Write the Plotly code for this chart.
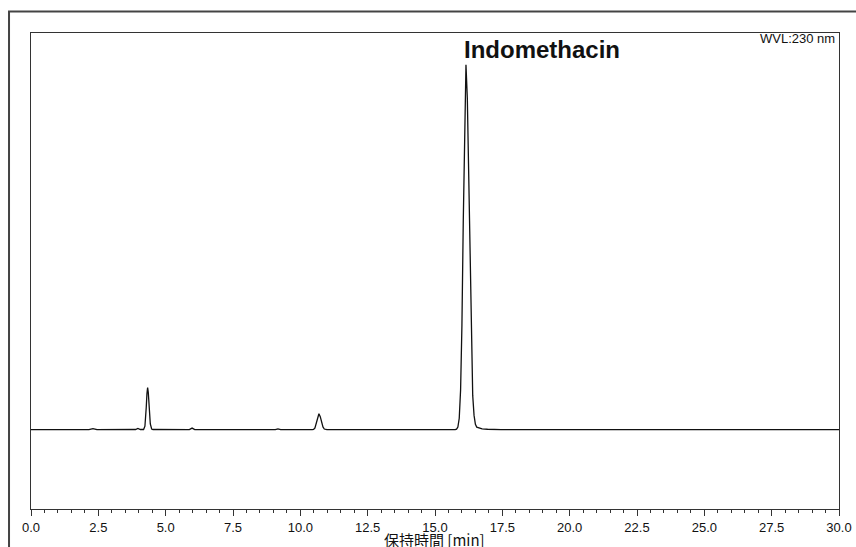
import plotly.graph_objects as go

# Chromatogram signal (time in min, signal in mAU)
time_min = [
    0.0, 1.35, 1.48, 1.6, 2.15, 2.30, 2.45, 3.88, 3.97, 4.06,
    4.18, 4.23, 4.255, 4.28, 4.305, 4.33, 4.355, 4.38, 4.405, 4.43, 4.48, 4.53,
    5.88, 5.98, 6.08, 6.9, 6.98, 7.06, 9.07, 9.17, 9.27,
    10.44, 10.49, 10.54, 10.59, 10.64, 10.69, 10.74, 10.79, 10.84, 10.89, 10.94, 10.99,
    15.75, 15.80, 15.85, 15.90, 15.95, 16.00, 16.05, 16.10, 16.15,
    16.20, 16.25, 16.30, 16.35, 16.40, 16.45, 16.50, 16.55, 16.65, 16.75, 16.95, 17.15, 17.45,
    30.0,
]
signal_mau = [
    0.0, 0.0, 0.3, 0.0, 0.0, 0.7, 0.0, 0.1, 0.8, 0.1,
    0.1, 2.2, 6.6, 14.3, 22.7, 26.5, 23.4, 16.1, 8.6, 3.6, 0.4, 0.1,
    0.0, 1.0, 0.0, 0.0, 0.2, 0.0, 0.0, 0.5, 0.0,
    0.0, 0.2, 1.0, 3.6, 7.7, 10.0, 8.2, 4.6, 1.7, 0.4, 0.1, 0.0,
    0.0, 0.3, 1.6, 7.2, 25.0, 66.0, 132.0, 200.0, 230.0,
    209.0, 157.6, 98.3, 50.7, 21.6, 9.0, 3.4, 1.6, 0.8, 0.5, 0.25, 0.1, 0.0,
    0.0,
]

x_tick_vals = [0.0, 2.5, 5.0, 7.5, 10.0, 12.5, 15.0, 17.5, 20.0, 22.5, 25.0, 27.5, 30.0]
x_tick_text = ["0.0", "2.5", "5.0", "7.5", "10.0", "12.5", "15.0", "17.5",
               "20.0", "22.5", "25.0", "27.5", "30.0"]

peak_name = "Indomethacin"
peak_time = 16.15
wavelength_label = "WVL:230 nm"
x_title = "保持時間 [min]"

fig = go.Figure()
fig.add_trace(go.Scatter(
    x=time_min, y=signal_mau, mode="lines",
    line=dict(color="#111111", width=1.3),
    hoverinfo="skip", showlegend=False,
))

axis_color = "#333333"
fig.update_layout(
    width=856, height=547,
    margin=dict(l=30.5, r=17, t=33, b=38),
    paper_bgcolor="white", plot_bgcolor="white",
    font=dict(family="Liberation Sans, Arial, sans-serif", color="#111111", size=13),
    xaxis=dict(
        range=[0, 30], tickvals=x_tick_vals, ticktext=x_tick_text,
        ticks="outside", ticklen=6, tickwidth=1, tickcolor=axis_color,
        minor=dict(dtick=0.5, tick0=0, ticks="outside", ticklen=3, tickcolor=axis_color, showgrid=False),
        showline=True, linecolor=axis_color, linewidth=1, mirror=True,
        showgrid=False, zeroline=False, automargin=False,
        tickfont=dict(size=13, family="Liberation Sans, Arial, sans-serif"),
    ),
    yaxis=dict(
        range=[-50, 250], showticklabels=False, ticks="",
        showline=True, linecolor=axis_color, linewidth=1, mirror=True,
        showgrid=False, zeroline=False, automargin=False,
    ),
    shapes=[
        dict(type="rect", xref="paper", yref="paper",
             x0=-0.0272, x1=1.05, y0=-0.1, y1=1.0452,
             line=dict(color="#444444", width=2), fillcolor="rgba(0,0,0,0)", layer="below"),
    ],
    annotations=[
        dict(x=peak_time, y=1.0, xref="x", yref="paper", xanchor="left", yanchor="bottom",
             xshift=-4, yshift=-32, text="<b>" + peak_name + "</b>", showarrow=False,
             font=dict(size=24, family="Liberation Sans, Arial, sans-serif", color="#111111")),
        dict(x=1.0, y=1.0, xref="paper", yref="paper", xanchor="right", yanchor="top",
             xshift=-2, yshift=4, text=wavelength_label, showarrow=False,
             font=dict(size=13, family="Liberation Sans, Arial, sans-serif", color="#111111")),
        dict(x=0.5, y=0.0, xref="paper", yref="paper", xanchor="center", yanchor="top",
             xshift=-1, yshift=-18, text=x_title, showarrow=False,
             font=dict(size=15, family="Noto Sans CJK JP, sans-serif", color="#111111")),
    ],
)

page_fix = (
    "document.body.style.margin='0';"
    "document.body.style.overflow='hidden';"
    "var gd=document.getElementById('{plot_id}');"
    "Plotly.relayout(gd,{width:856,height:547});"
)

fig.write_html("out.html", post_script=page_fix,
               config={"responsive": False, "displayModeBar": False})
